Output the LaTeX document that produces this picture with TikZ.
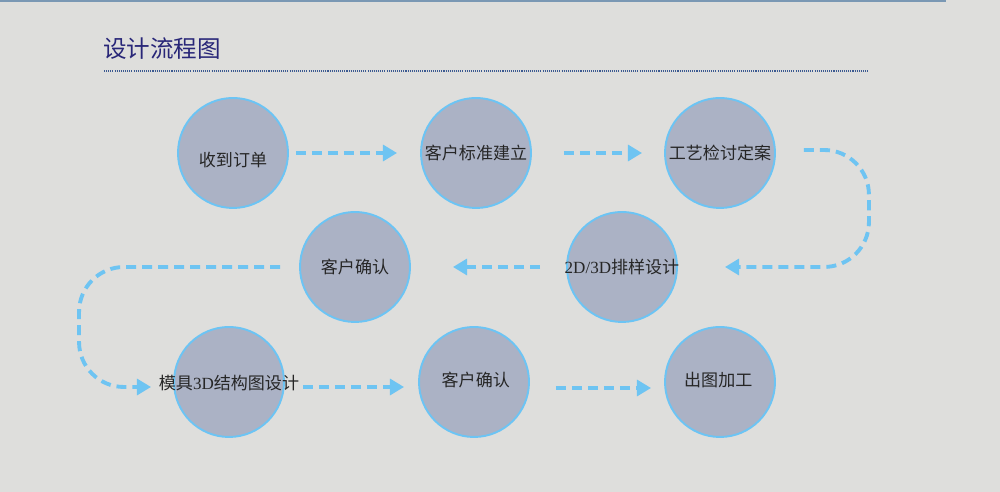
\documentclass[tikz,border=0pt]{standalone}
\usepackage{fontspec}
\setmainfont{Liberation Serif}
\newfontfamily\cjk{Noto Sans CJK SC}
\usetikzlibrary{arrows.meta}
\definecolor{bgGray}{HTML}{DEDEDC}
\definecolor{stageFill}{HTML}{ABB2C5}
\definecolor{stageRing}{HTML}{6CC4F4}
\definecolor{flowBlue}{HTML}{6EC4F2}
\definecolor{titleNavy}{RGB}{40,38,120}
\definecolor{ruleBlue}{RGB}{60,90,145}
\definecolor{topBlue}{RGB}{122,152,180}
\newcommand\latn[1]{{\rmfamily #1}}

\begin{document}
\begin{tikzpicture}[
  x=0.02cm, y=0.02cm,
  stage/.style={circle, fill=stageFill, draw=stageRing, line width=1.1pt,
                minimum size=2.2cm, inner sep=0pt},
  lbl/.style={font=\cjk\fontsize{9.7}{11}\selectfont, text=black!85, inner sep=0pt},
  flow/.style={draw=flowBlue, line width=2.2pt, dash pattern=on 5.7pt off 3.4pt,
               -{Triangle[length=8pt, width=9pt, fill=flowBlue]}},
]
  \useasboundingbox (0,0) rectangle (1000,492);
  \fill[bgGray] (-2,-2) rectangle (1002,494);
  \draw[topBlue, line width=1.1pt] (-2,491) -- (946,491);
  \node[anchor=west, text=titleNavy, inner sep=0pt,
        font=\cjk\fontsize{13.4}{15}\selectfont] (title) at (103,443) {设计流程图};
  \draw[ruleBlue, line width=0.6pt, dash pattern=on 0.6pt off 0.6pt] (104,421) -- (869,421);

  \node[stage, label={[lbl, yshift=-4pt]center:收到订单}] (c1) at (233,339) {};
  \node[stage, label={[lbl]center:客户标准建立}] (c2) at (476,339) {};
  \node[stage, label={[lbl]center:工艺检讨定案}] (c3) at (720,339) {};
  \node[stage, label={[lbl]center:\latn{2D/3D}排样设计}] (c4) at (622,225) {};
  \node[stage, label={[lbl]center:客户确认}] (c5) at (355,225) {};
  \node[stage, label={[lbl, yshift=-0.5pt]center:模具\latn{3D}结构图设计}] (c6) at (229,110) {};
  \node[stage, label={[lbl, xshift=1pt, yshift=1pt]center:客户确认}] (c7) at (474,110) {};
  \node[stage, label={[lbl, xshift=-1pt, yshift=1pt]center:出图加工}] (c8) at (720,110) {};

  \draw[flow] ([shift={(7,0)}]c1.east) -- ([shift={(-23,0)}]c2.west);
  \draw[flow] ([shift={(32,0)}]c2.east) -- ([shift={(-22,0)}]c3.west);
  \draw[flow, rounded corners=0.9cm] ([shift={(28,3)}]c3.east) -- ++(65,0)
    |- ([shift={(47,0)}]c4.east);
  \draw[flow] ([shift={(-26,0)}]c4.west) -- ([shift={(42,0)}]c5.east);
  \draw[flow, rounded corners=0.9cm] ([shift={(-19,0)}]c5.west) -- ++(-201,0)
    |- ([shift={(-22,-5)}]c6.west);
  \draw[flow] ([shift={(18,-5)}]c6.east) -- ([shift={(-14,-5)}]c7.west);
  \draw[flow] ([shift={(26,-6)}]c7.east) -- ([shift={(-13,-6)}]c8.west);
\end{tikzpicture}
\end{document}
